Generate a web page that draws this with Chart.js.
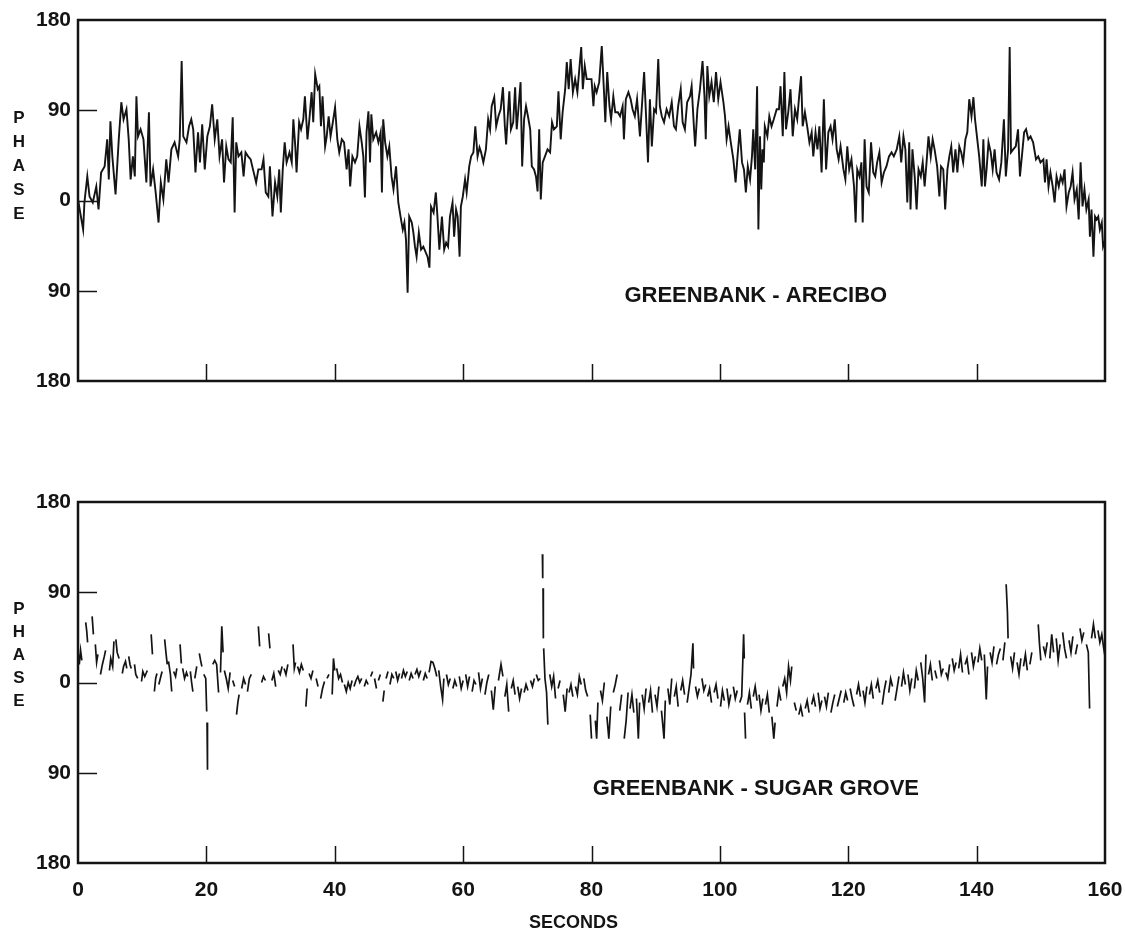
<!DOCTYPE html>
<html>
<head>
<meta charset="utf-8">
<title>Phase vs seconds</title>
<script src="https://cdn.jsdelivr.net/npm/chart.js"></script>
<style>
    body { margin: 0; background: #fff; }
    #wrap { position: relative; width: 1125px; height: 933px; background: #fff; }
    #topPanel, #bottomPanel { position: absolute; left: 0; }
    #topPanel { top: 0; }
    #bottomPanel { top: 440px; }
</style>
</head>
<body>
<div id="wrap">
    <canvas id="topPanel" width="1125" height="440"></canvas>
    <canvas id="bottomPanel" width="1125" height="493"></canvas>
</div>
<script>
// 軸刻度
const secondTicks = [0, 20, 40, 60, 80, 100, 120, 140, 160];
const phaseTicks = [-180, -90, 0, 90, 180];
const phaseTickLabels = ['180', '90', '0', '90', '180'];

// GREENBANK - ARECIBO (秒, 相位)
const arecTime = [
    0, 0.8, 1.0, 1.45, 1.8, 2.3, 2.85, 3.2, 3.6, 4.15,
    4.55, 4.8, 5.05, 5.35, 5.85, 6.35, 6.75, 7.1, 7.55, 7.9,
    8.2, 8.55, 8.85, 9.1, 9.35, 9.75, 10.2, 10.65, 11.05, 11.3,
    11.7, 12.1, 12.55, 12.9, 13.3, 13.75, 14.1, 14.55, 15.05, 15.6,
    15.85, 16.15, 16.4, 16.9, 17.3, 17.65, 17.95, 18.3, 18.7, 19.0,
    19.35, 19.75, 20.15, 20.55, 20.9, 21.3, 21.7, 22.05, 22.45, 22.75,
    23.1, 23.45, 23.8, 24.1, 24.4, 24.65, 25.0, 25.45, 25.8, 26.1,
    26.5, 26.9, 27.15, 27.75, 28.1, 28.6, 28.9, 29.25, 29.65, 29.9,
    30.3, 30.7, 31.05, 31.35, 31.6, 31.9, 32.2, 32.5, 32.95, 33.3,
    33.55, 33.85, 34.05, 34.45, 34.75, 35.1, 35.35, 35.75, 36.05, 36.4,
    36.65, 36.95, 37.35, 37.6, 37.85, 38.1, 38.5, 38.75, 39.05, 39.35,
    39.7, 40.05, 40.4, 40.7, 41.1, 41.45, 41.85, 42.15, 42.4, 42.75,
    43.15, 43.5, 43.85, 44.2, 44.45, 44.7, 44.95, 45.25, 45.5, 45.7,
    46.0, 46.45, 46.8, 47.15, 47.35, 47.55, 47.85, 48.2, 48.5, 48.85,
    49.15, 49.55, 49.9, 50.25, 50.6, 50.85, 51.1, 51.35, 51.6, 52.0,
    52.25, 52.5, 52.75, 53.1, 53.45, 53.8, 54.45, 54.75, 55.0, 55.4,
    55.75, 56.0, 56.3, 56.7, 57.05, 57.35, 57.65, 57.95, 58.35, 58.6,
    58.9, 59.15, 59.45, 59.65, 59.95, 60.3, 60.55, 60.95, 61.25, 61.6,
    61.9, 62.25, 62.55, 62.8, 63.15, 63.55, 63.9, 64.2, 64.45, 64.85,
    65.15, 65.5, 65.85, 66.2, 66.5, 66.7, 66.9, 67.2, 67.45, 67.8,
    68.1, 68.35, 68.65, 68.95, 69.2, 69.5, 69.8, 70.1, 70.45, 70.7,
    71.05, 71.35, 71.6, 71.85, 72.1, 72.4, 72.75, 73.15, 73.55, 73.85,
    74.15, 74.6, 74.85, 75.2, 75.5, 75.9, 76.15, 76.45, 76.75, 77.1,
    77.45, 77.8, 78.1, 78.4, 78.65, 78.95, 79.25, 79.6, 80.0, 80.3,
    80.5, 80.8, 81.2, 81.6, 81.95, 82.15, 82.45, 82.8, 83.05, 83.4,
    83.7, 84.1, 84.45, 84.85, 85.05, 85.35, 85.75, 86.1, 86.4, 86.75,
    87.1, 87.55, 87.95, 88.2, 88.5, 88.8, 89.1, 89.4, 89.75, 90.05,
    90.4, 90.65, 90.95, 91.3, 91.7, 92.1, 92.5, 92.85, 93.15, 93.5,
    93.9, 94.2, 94.55, 94.9, 95.35, 95.6, 95.95, 96.15, 96.5, 96.9,
    97.3, 97.6, 97.8, 98.05, 98.35, 98.7, 99.05, 99.4, 99.75, 100.1,
    100.55, 100.8, 101.05, 101.35, 101.7, 102.1, 102.45, 102.75, 103.1, 103.45,
    103.75, 104.05, 104.35, 104.7, 105.0, 105.2, 105.5, 105.8, 106.0, 106.25,
    106.45, 106.65, 106.85, 107.0, 107.4, 107.7, 108.05, 108.4, 108.85, 109.2,
    109.45, 109.8, 110.05, 110.3, 110.65, 111.0, 111.35, 111.7, 112.05, 112.35,
    112.65, 112.9, 113.25, 113.6, 113.95, 114.3, 114.55, 114.9, 115.2, 115.5,
    115.85, 116.2, 116.55, 116.9, 117.25, 117.55, 117.9, 118.2, 118.5, 118.8,
    119.25, 119.55, 119.85, 120.15, 120.5, 120.9, 121.15, 121.4, 121.75, 122.05,
    122.25, 122.55, 122.85, 123.2, 123.55, 123.9, 124.2, 124.5, 124.85, 125.2,
    125.55, 125.95, 126.35, 126.75, 127.1, 127.55, 127.95, 128.25, 128.6, 128.9,
    129.2, 129.5, 129.7, 130.0, 130.35, 130.65, 130.95, 131.3, 131.6, 131.9,
    132.2, 132.5, 132.85, 133.15, 133.45, 133.85, 134.2, 134.45, 134.8, 135.1,
    135.45, 135.75, 136.05, 136.35, 136.7, 137.0, 137.3, 137.6, 137.9, 138.25,
    138.55, 138.85, 139.2, 139.5, 139.75, 140.1, 140.4, 140.8, 141.05, 141.3,
    141.55, 141.85, 142.2, 142.5, 142.8, 143.1, 143.5, 143.85, 144.25, 144.55,
    144.9, 145.15, 145.35, 145.7, 146.1, 146.45, 146.75, 147.05, 147.4, 147.7,
    148.05, 148.4, 148.8, 149.25, 149.6, 149.95, 150.4, 150.65, 150.9, 151.2,
    151.5, 151.85, 152.15, 152.45, 152.8, 153.1, 153.4, 153.7, 154.0, 154.35,
    154.65, 154.95, 155.25, 155.6, 155.9, 156.2, 156.5, 156.8, 157.1, 157.45,
    157.65, 157.9, 158.2, 158.45, 158.7, 158.95, 159.2, 159.5, 159.7, 160
];
const arecPhase = [
    1, -29, -2, 24, 4, -2, 14, -9, 28, 34,
    61, 21, 79, 44, 6, 61, 98, 81, 91, 61,
    21, 44, 24, 104, 64, 71, 61, 18, 88, 14,
    31, 8, -22, 18, 1, 41, 18, 51, 58, 44,
    61, 139, 64, 58, 74, 81, 71, 28, 68, 38,
    76, 31, 64, 74, 96, 61, 81, 44, 61, 18,
    54, 41, 38, 83, -12, 58, 44, 48, 24, 48,
    44, 41, 34, 18, 31, 31, 41, 8, 4, 34,
    -16, 18, 4, 31, -12, 31, 58, 38, 48, 38,
    81, 54, 28, 78, 71, 81, 104, 61, 81, 108,
    78, 126, 111, 114, 74, 104, 54, 64, 84, 64,
    78, 93, 61, 48, 61, 58, 31, 51, 14, 44,
    38, 44, 74, 58, 44, 3, 68, 89, 38, 86,
    61, 68, 58, 68, 8, 81, 58, 44, 54, 24,
    11, 34, -2, -16, -29, -22, -39, -92, -16, -22,
    -32, -46, -56, -32, -49, -46, -56, -67, -6, -12,
    8, -16, -49, -16, -49, -42, -46, -16, -2, -36,
    -9, -16, -56, -6, 4, 21, 8, 34, 44, 48,
    74, 44, 53, 48, 38, 51, 81, 71, 94, 103,
    74, 84, 91, 113, 74, 56, 78, 109, 71, 78,
    113, 71, 94, 118, 34, 81, 94, 84, 71, 34,
    31, 24, 9, 71, 1, 38, 44, 51, 48, 78,
    71, 74, 109, 61, 88, 111, 138, 111, 141, 108,
    121, 108, 131, 153, 111, 134, 121, 121, 121, 94,
    114, 108, 118, 154, 108, 78, 128, 94, 81, 104,
    88, 88, 84, 94, 61, 101, 108, 101, 91, 84,
    101, 64, 104, 128, 84, 38, 101, 54, 91, 88,
    141, 94, 84, 78, 91, 84, 98, 74, 71, 94,
    111, 78, 71, 98, 104, 114, 74, 54, 91, 111,
    139, 104, 61, 134, 104, 118, 98, 128, 101, 118,
    98, 84, 61, 74, 58, 41, 18, 44, 71, 38,
    31, 8, 34, 21, 44, 71, 31, 114, -29, 64,
    11, 51, 38, 74, 64, 84, 74, 81, 91, 91,
    114, 64, 128, 71, 88, 111, 64, 91, 81, 104,
    124, 74, 88, 74, 58, 68, 44, 68, 51, 74,
    28, 101, 31, 68, 74, 61, 81, 51, 41, 54,
    31, 21, 54, 31, 41, 14, -22, 31, 24, 38,
    -22, 61, 14, 8, 58, 28, 24, 38, 48, 18,
    28, 34, 44, 48, 44, 51, 64, 38, 64, 51,
    -2, 58, -9, 51, 24, -9, 31, 24, 38, 14,
    38, 64, 44, 61, 51, 34, 4, 34, 31, -9,
    31, 44, 54, 28, 51, 28, 54, 48, 38, 61,
    68, 101, 84, 103, 81, 61, 44, 14, 61, 14,
    31, 58, 48, 31, 51, 28, 21, 38, 81, 24,
    51, 153, 48, 51, 54, 71, 24, 44, 68, 71,
    61, 64, 58, 41, 44, 38, 41, 18, 41, 14,
    28, 14, -2, 24, 14, 24, 18, 31, -6, 8,
    14, 28, 1, 11, -19, 38, -6, 11, -9, 1,
    -36, -9, -56, -16, -19, -16, -29, -22, -46, -40
];

// GREENBANK - SUGAR GROVE (null = 斷線)
const sgTime = [
    0, 0.2, 0.4, 0.6, 0.9, 1.2, 1.35, 1.5, 1.8, 2.2, 2.4, 2.55,
    2.7, 2.9, 3.1, 3.3, 3.5, 3.8, 4.1, 4.3, 4.6, 4.9, 5.1, 5.4, 5.6, 5.75,
    5.9, 6.1, 6.4, 6.6, 6.9, 7.1, 7.4, 7.6, 7.75, 7.9, 8.1, 8.3, 8.5,
    8.8, 9.0, 9.3, 9.6, 9.9, 10.1, 10.4, 10.8, 11.1, 11.4, 11.6, 11.75,
    11.9, 12.1, 12.3, 12.45, 12.6, 12.9, 13.1, 13.3, 13.5, 13.7, 13.9, 14.0,
    14.1, 14.4, 14.6, 14.75, 14.9, 15.2, 15.4, 15.65, 15.9, 16.1, 16.2,
    16.3, 16.6, 16.9, 17.1, 17.3, 17.5, 17.7, 17.9, 18.05, 18.2, 18.5, 18.7,
    18.9, 19.1, 19.3, 19.45, 19.6, 19.9, 20.05, 20.08, 20.1, 20.15, 20.2, 20.6,
    21.0, 21.3, 21.6, 21.9, 22.05, 22.2, 22.4, 22.6, 22.7, 22.8, 23.1, 23.4, 23.7, 23.9,
    24.1, 24.4, 24.55, 24.7, 24.9, 25.1, 25.3, 25.5, 25.8, 26.1, 26.25,
    26.4, 26.7, 27.0, 27.5, 28.1, 28.3, 28.45, 28.6, 28.9, 29.2, 29.45,
    29.7, 29.9, 30.05, 30.2, 30.5, 30.8, 31.0, 31.2, 31.5, 31.8, 31.95,
    32.1, 32.4, 32.7, 33.1, 33.5, 33.7, 33.9, 34.05, 34.2, 34.5, 34.8, 35.1, 35.3,
    35.5, 35.7, 35.85, 36.0, 36.3, 36.6, 36.85, 37.1, 37.4, 37.6,
    37.8, 38.1, 38.4, 38.6, 38.8, 39.1, 39.35, 39.6, 39.8, 40.0, 40.15,
    40.3, 40.6, 40.9, 41.2, 41.35, 41.5, 41.8, 42.1, 42.4, 42.7, 42.85, 43.0, 43.3, 43.6, 43.9, 44.2, 44.4,
    44.6, 44.9, 45.2, 45.4, 45.6, 45.9, 46.05, 46.2, 46.5, 46.65,
    46.8, 47.1, 47.3, 47.5, 47.7, 47.85, 48.0, 48.3, 48.45,
    48.6, 48.9, 49.2, 49.35, 49.5, 49.8, 50.1, 50.25, 50.4, 50.7, 51.0, 51.3, 51.45,
    51.6, 51.9, 52.2, 52.35, 52.5, 52.8, 53.1, 53.4, 53.6, 53.8, 54.1, 54.4, 54.55,
    54.7, 55.0, 55.3, 55.6, 55.9, 56.05, 56.2, 56.5, 56.8, 57.0, 57.2, 57.4, 57.7, 58.0, 58.2,
    58.4, 58.7, 59.0, 59.2, 59.4, 59.7, 60.0, 60.2, 60.4, 60.7, 61.0, 61.2,
    61.4, 61.7, 62.0, 62.2, 62.4, 62.7, 63.0, 63.2, 63.4, 63.7, 64.0, 64.2,
    64.4, 64.7, 65.0, 65.25, 65.5, 65.9, 66.2, 66.35, 66.5, 66.8, 67.1, 67.3,
    67.5, 67.8, 68.1, 68.3, 68.5, 68.8, 69.1, 69.3, 69.5, 69.8, 70.1, 70.3,
    70.5, 70.8, 71.1, 71.25, 71.4, 71.7, 72.0, 72.2, 72.35, 72.4, 72.42,
    72.45, 72.5, 72.52, 72.55, 72.75, 73.0, 73.2, 73.35, 73.5, 73.8, 74.1, 74.4, 74.6,
    74.8, 75.1, 75.35, 75.6, 75.9, 76.2, 76.35, 76.5, 76.8, 77.1, 77.3,
    77.5, 77.8, 78.1, 78.4, 78.6, 78.8, 79.1, 79.4, 79.6, 79.8, 80.0, 80.3,
    80.6, 80.8, 81.0, 81.2, 81.4, 81.7, 82.0, 82.2, 82.4, 82.7, 83.0, 83.2,
    83.4, 83.7, 84.0, 84.2, 84.4, 84.7, 84.9, 85.1, 85.4, 85.7, 85.85,
    86.0, 86.3, 86.6, 86.8, 87.0, 87.3, 87.5, 87.7, 87.9, 88.2, 88.5, 88.7,
    88.9, 89.2, 89.5, 89.7, 89.9, 90.2, 90.5, 90.7, 90.9, 91.3, 91.5, 91.7,
    91.9, 92.2, 92.5, 92.7, 92.9, 93.2, 93.5, 93.7, 93.9, 94.2, 94.5, 94.7,
    94.9, 95.2, 95.5, 95.8, 95.9, 96.05, 96.2, 96.5, 96.8, 97.0, 97.2, 97.5, 97.8, 97.95,
    98.1, 98.4, 98.7, 98.9, 99.1, 99.4, 99.7, 99.9, 100.1, 100.4, 100.7, 100.9,
    101.1, 101.4, 101.7, 101.9, 102.1, 102.4, 102.7, 102.9, 103.1, 103.4, 103.7, 103.8, 103.82,
    103.85, 104.0, 104.15, 104.3, 104.6, 104.9, 105.05, 105.2, 105.5, 105.8, 105.95,
    106.1, 106.4, 106.7, 106.9, 107.1, 107.4, 107.7, 107.9, 108.1, 108.4, 108.6, 108.75,
    108.9, 109.2, 109.5, 109.65, 109.8, 110.1, 110.4, 110.7, 111.0, 111.2, 111.4, 111.6, 111.9, 112.1,
    112.3, 112.6, 112.9, 113.1, 113.3, 113.6, 113.9, 114.1, 114.3, 114.6, 114.9, 115.1,
    115.3, 115.6, 115.9, 116.1, 116.3, 116.6, 116.9, 117.1, 117.3, 117.6, 117.9, 118.1,
    118.3, 118.6, 118.9, 119.1, 119.3, 119.6, 119.9, 120.1, 120.3, 120.6, 120.9, 121.1,
    121.3, 121.6, 121.9, 122.1, 122.3, 122.6, 122.9, 123.1, 123.3, 123.6, 123.9, 124.1,
    124.3, 124.6, 124.9, 125.1, 125.3, 125.6, 125.9, 126.1, 126.3, 126.6, 126.9, 127.1,
    127.3, 127.6, 127.9, 128.1, 128.3, 128.6, 128.9, 129.1, 129.3, 129.6, 129.9, 130.1,
    130.3, 130.6, 130.9, 131.1, 131.3, 131.6, 131.9, 132.1, 132.3, 132.5, 132.8, 133.1, 133.3,
    133.5, 133.8, 134.0, 134.2, 134.5, 134.8, 135.0, 135.2, 135.5, 135.8, 136.0,
    136.2, 136.5, 136.8, 137.0, 137.2, 137.5, 137.8, 138.0, 138.2, 138.5, 138.8, 139.0,
    139.2, 139.5, 139.8, 140.0, 140.2, 140.5, 140.8, 141.0, 141.2, 141.5, 141.7, 141.9,
    142.1, 142.4, 142.7, 142.9, 143.1, 143.4, 143.7, 143.9, 144.1, 144.4, 144.5,
    144.6, 144.8, 144.9, 145.1, 145.3, 145.6, 145.9, 146.1, 146.3, 146.6, 146.9, 147.1,
    147.3, 147.6, 147.9, 148.1, 148.3, 148.6, 149.1, 149.6, 149.8, 150.0, 150.2,
    150.4, 150.7, 151.0, 151.2, 151.4, 151.7, 152.0, 152.2, 152.4, 152.7, 153.0, 153.2,
    153.4, 153.7, 154.0, 154.2, 154.4, 154.7, 155.0, 155.2, 155.4, 155.7, 155.9,
    156.1, 156.4, 156.7, 156.9, 157.1, 157.4, 157.6, 157.75, 157.9, 158.2, 158.5, 158.7, 158.9, 159.2, 159.5, 159.8, 160
];
const sgPhase = [
    30, 18, 32, 22, null, 60, 52, 40, null, 66, 48, null,
    38, 20, 28, null, 8, 18, 26, 32, null, 12, 24, 16, 41, null,
    43, 30, 24, null, 9, 16, 21, 14, null, 26, 18, 14, null,
    18, 8, 4, null, 1, 11, 6, 12, null, 48, 28, null,
    -9, 4, 9, null, -2, 6, 11, null, 43, 30, 18, null,
    21, 8, -9, null, 11, 6, 14, null, 38, 19, null,
    14, 4, 10, 6, null, 11, 0, -9, null, 4, 16, null,
    29, 22, 16, null, 8, 4, -29, null, -40, -70, -87, null,
    18, 22, 18, -10, null, 10, 56, 30, null, 12, 4, -6, 10, null,
    2, -4, null, -32, -20, -12, null, -6, 4, -2, null,
    -9, 4, 8, null, 56, 36, null, 0, 6, 2, null,
    49, 34, null, 2, 9, -4, null, 12, 8, 16, null,
    14, 8, 18, null, 38, 14, 20, null, 16, 10, 18, 12, null,
    -24, -6, null, 9, 4, 12, null, 4, -4, null,
    -16, -6, 1, null, 4, 8, null, -12, 24, 12, null,
    14, 4, 8, 0, null, -2, -9, 0, -6, 2, null, -4, 2, 6, 0, 4, null,
    -4, 2, -2, null, 6, 11, null, 4, -6, null,
    2, 8, null, -19, -8, null, 4, 11, null,
    -2, 8, 4, null, 11, 2, 9, null, 4, 12, 6, 11, null,
    2, 9, 4, null, 8, 13, 6, 12, null, 2, 9, 4, null,
    10, 21, 20, 14, 6, null, 12, -4, -17, 4, null, 8, -2, 4, null,
    -6, 2, -4, null, 6, -6, 2, null, 8, -4, 6, null,
    -9, 2, -2, null, 10, -6, 4, null, -12, 0, 8, null,
    -8, -27, -4, null, 2, 18, 6, null, -14, -2, -29, null,
    -6, 2, -12, null, -4, -16, -6, null, -10, -2, -8, null,
    2, -4, 4, null, 8, 2, 4, null, 128, 104, null,
    94, 44, null, 34, 4, -10, -42, null, 8, -4, 6, -16, null,
    -6, 2, null, -12, -29, -6, null, -10, -2, -14, null,
    -4, -12, 6, -2, null, 4, -8, -14, null, -32, -56, null,
    -38, -56, -20, null, -8, -18, 0, null, -34, -56, -24, null,
    -10, -2, 8, null, -28, -12, null, -56, -38, -10, null,
    -26, -12, -30, null, -16, -56, -20, null, -12, -26, -6, null,
    -20, -8, -30, null, -12, -24, -4, null, -28, -56, -18, null,
    -6, -22, 4, null, -14, -4, -24, null, -8, 2, -12, null,
    -20, -6, 8, 39, 14, null, -4, -14, -6, null, 4, -8, -2, null,
    -14, -6, -20, null, -10, -2, -16, null, -24, -8, -18, null,
    -6, -22, -12, null, -4, -16, -8, null, -20, -14, 48, 24, null,
    -30, -56, null, -22, -10, -26, null, -14, -4, -18, null,
    -12, -28, -16, null, -22, -12, -30, null, -34, -56, -40, null,
    -24, -8, -18, null, -4, 4, -10, 16, 2, 16, null, -20, -28, null,
    -32, -24, -34, null, -26, -18, -30, null, -22, -14, -24, null,
    -10, -26, -18, null, -14, -24, -10, null, -30, -20, -12, null,
    -24, -16, -8, null, -20, -10, -18, null, -6, -16, -24, null,
    -12, -2, -14, null, -8, -20, -4, null, -12, -2, -16, null,
    -6, 2, -10, null, -22, -8, 2, null, -10, 4, -4, null,
    -18, -6, 6, null, -4, 10, -2, null, 8, -8, 4, null,
    -6, 12, 2, null, 20, 4, -20, 28, null, 8, 18, 2, null,
    12, 4, null, 22, 8, 14, null, 10, 4, 18, null,
    24, 12, 20, null, 14, 28, 10, null, 18, 24, 8, null,
    30, 16, 26, null, 20, 34, 22, null, 28, -17, 16, null,
    30, 20, 36, null, 18, 28, 34, null, 22, 40, null,
    98, 70, 44, null, 26, 14, 30, null, 20, 8, 24, null,
    16, 28, 12, null, 18, 30, null, 58, 38, 22, null,
    36, 28, 40, null, 24, 48, 30, null, 44, 22, 38, null,
    50, 34, 24, null, 42, 30, 46, null, 28, 38, null,
    54, 42, 50, null, 38, 30, -26, null, 44, 58, 44, null, 52, 40, 48, 34, 26
];

const ink = '#141414';
const fontFamily = '"Liberation Sans", Arial, Helvetica, sans-serif';

if (arecTime.length !== arecPhase.length) console.error('arecibo length mismatch', arecTime.length, arecPhase.length);
if (sgTime.length !== sgPhase.length) console.error('sugar grove length mismatch', sgTime.length, sgPhase.length);

// 邊框、內側刻度、面板文字
const panelDecor = {
    id: 'panelDecor',
    afterDatasetsDraw(chart, args, opts) {
        const { ctx, chartArea: a } = chart;
        const x = chart.scales.x;
        const y = chart.scales.y;
        ctx.save();
        ctx.strokeStyle = ink;
        ctx.lineWidth = 2.5;
        ctx.strokeRect(a.left, a.top, a.right - a.left, a.bottom - a.top);

        ctx.lineWidth = 1.5;
        ctx.beginPath();
        phaseTicks.slice(1, -1).forEach(v => {
            const py = Math.round(y.getPixelForValue(v)) + 0.5;
            ctx.moveTo(a.left, py);
            ctx.lineTo(a.left + 19, py);
        });
        secondTicks.slice(1, -1).forEach(v => {
            const px = Math.round(x.getPixelForValue(v)) + 0.5;
            ctx.moveTo(px, a.bottom);
            ctx.lineTo(px, a.bottom - 17);
        });
        ctx.stroke();

        ctx.fillStyle = ink;
        ctx.textAlign = 'center';
        ctx.textBaseline = 'middle';
        ctx.font = 'bold 22px ' + fontFamily;
        ctx.fillText(opts.label, x.getPixelForValue(opts.labelAt[0]), y.getPixelForValue(opts.labelAt[1]));

        ctx.font = 'bold 17px ' + fontFamily;
        const y0 = y.getPixelForValue(0);
        'PHASE'.split('').forEach((ch, i) => {
            ctx.fillText(ch, 19, y0 + opts.phaseTop + i * opts.phaseStep);
        });

        // 橫軸標題
        if (opts.axisTitle) {
            ctx.font = 'bold 18px ' + fontFamily;
            ctx.fillText(opts.axisTitle, x.getPixelForValue(opts.axisTitleAt), a.bottom + 60);
        }
        ctx.restore();
    }
};

function makePanel(canvasId, times, phases, decor, showSeconds, lineWidth) {
    const data = times.map((t, i) => ({ x: t, y: phases[i] }));
    return new Chart(document.getElementById(canvasId), {
        type: 'line',
        data: {
            datasets: [{
                data: data,
                borderColor: ink,
                borderWidth: lineWidth,
                pointRadius: 0,
                tension: 0,
                spanGaps: false,
                fill: false
            }]
        },
        options: {
            responsive: false,
            animation: false,
            devicePixelRatio: 1,
            layout: {
                padding: showSeconds
                    ? { top: 62, right: 20, bottom: 0, left: 0 }
                    : { top: 20, right: 20, bottom: 59, left: 0 }
            },
            scales: {
                x: {
                    type: 'linear',
                    min: 0,
                    max: 160,
                    grid: { display: false, drawTicks: false },
                    border: { display: false },
                    afterBuildTicks: s => { s.ticks = secondTicks.map(v => ({ value: v })); },
                    afterFit: s => {
                        s.height = showSeconds ? 70 : 0;
                        s.paddingLeft = 0;
                        s.paddingRight = 0;
                    },
                    ticks: {
                        display: showSeconds,
                        color: ink,
                        padding: 15,
                        maxRotation: 0,
                        autoSkip: false,
                        font: { family: fontFamily, size: 21, weight: 'bold' }
                    }
                },
                y: {
                    min: -180,
                    max: 180,
                    grid: { display: false, drawTicks: false },
                    border: { display: false },
                    afterBuildTicks: s => { s.ticks = phaseTicks.map(v => ({ value: v })); },
                    afterFit: s => { s.width = 78; },
                    ticks: {
                        color: ink,
                        padding: 7,
                        autoSkip: false,
                        font: { family: fontFamily, size: 21, weight: 'bold' },
                        callback: (v, i) => phaseTickLabels[i]
                    }
                }
            },
            plugins: {
                legend: { display: false },
                tooltip: { enabled: false },
                panelDecor: decor
            }
        },
        plugins: [panelDecor]
    });
}

makePanel('topPanel', arecTime, arecPhase,
    { label: 'GREENBANK - ARECIBO', labelAt: [105.6, -95], phaseTop: -82, phaseStep: 24 }, false, 1.9);
makePanel('bottomPanel', sgTime, sgPhase,
    { label: 'GREENBANK - SUGAR GROVE', labelAt: [105.6, -106], phaseTop: -73, phaseStep: 23,
      axisTitle: 'SECONDS', axisTitleAt: 77.2 }, true, 1.7);
</script>
</body>
</html>
